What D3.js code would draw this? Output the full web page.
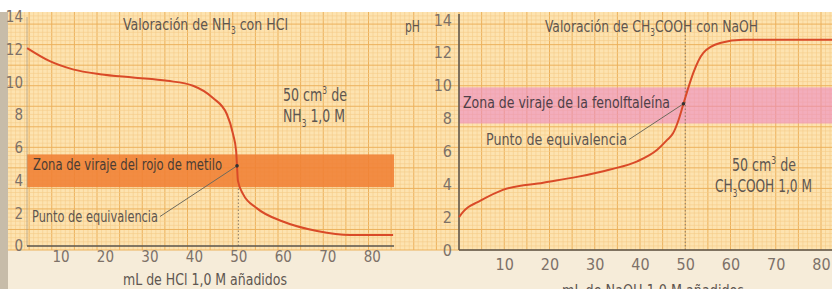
<!DOCTYPE html>
<html>
<head>
<meta charset="utf-8">
<script src="https://cdn.jsdelivr.net/npm/d3@7"></script>
<style>
  body { margin: 0; background: #fff; }
  svg { display: block; }
  text { font-family: "DejaVu Sans Condensed", "Liberation Sans Narrow", sans-serif; }
</style>
</head>
<body>
<svg id="chart"></svg>
<script>
// tick labels
const xTicks = [10, 20, 30, 40, 50, 60, 70, 80];
const yTicks = [0, 2, 4, 6, 8, 10, 12, 14];

// NH3 con HCl (mL añadidos, pH)
const nh3Ml = [2.5, 7.6, 12.8, 18.9, 26.3, 34, 39.8, 44.3, 47.4, 48.8, 49.5, 49.7, 49.9, 51, 54.2, 60, 67.7, 75.1, 84.8];
const nh3Ph = [12.1, 11.3, 10.8, 10.5, 10.3, 10.1, 9.8, 9.05, 8.07, 6.85, 5.8, 4.9, 4.0, 3.2, 2.3, 1.5, 0.92, 0.67, 0.67];
const rojoMetilo = [3.6, 5.6];

// CH3COOH con NaOH
const acMl = [0, 1, 2, 4, 9.7, 18.6, 26.1, 33.4, 39.4, 43.8, 46, 47.3, 48.5, 49.6, 50.7, 51.8, 54, 57.7, 62.8, 83];
const acPh = [2.0, 2.35, 2.6, 2.9, 3.66, 4.1, 4.45, 4.9, 5.4, 6.1, 6.7, 7.1, 7.9, 8.9, 9.9, 10.8, 12.0, 12.6, 12.8, 12.8];
const fenolftaleina = [7.7, 9.9];

const eqNh3 = [49.7, 4.9];
const eqAc = [49.6, 8.9];

const width = 832, height = 289;
const svg = d3.select("#chart").attr("width", width).attr("height", height);

const xL = d3.scaleLinear().domain([0, 85]).range([16, 394]);
const yL = d3.scaleLinear().domain([0, 14]).range([246, 17]);
const xR = d3.scaleLinear().domain([0, 80]).range([459, 821]);
const yR = d3.scaleLinear().domain([0, 14]).range([250, 20]);

const curveCol = "#d94a28", textCol = "#5e5650", axisCol = "#5a554e";

// paper background
svg.append("rect").attr("x", 0).attr("y", 0).attr("width", width).attr("height", height).attr("fill", "#fff");
svg.append("rect").attr("x", 0).attr("y", 12).attr("width", 8).attr("height", height - 12).attr("fill", "#c7bca9");
svg.append("rect").attr("x", 8).attr("y", 250).attr("width", width - 8).attr("height", height - 250).attr("fill", "#f6ecd9");
svg.append("rect").attr("x", 8).attr("y", 12).attr("width", width - 8).attr("height", 238).attr("fill", "#fde3b0");

// graph-paper grid, built from the right chart scales
const grid = svg.append("g");
const gx = d3.range(-100, 84).filter(v => xR(v) >= 8 && xR(v) <= width);
const gy = d3.range(0, 14.6, 0.25).filter(v => yR(v) >= 12);
grid.selectAll("line.v").data(gx).join("line")
  .attr("x1", d => xR(d)).attr("x2", d => xR(d)).attr("y1", 12).attr("y2", 250)
  .attr("stroke", d => d % 5 === 0 ? "#ecb15c" : "#f5cb88")
  .attr("stroke-width", d => d % 5 === 0 ? 1 : 0.6);
grid.selectAll("line.h").data(gy).join("line")
  .attr("x1", 8).attr("x2", width).attr("y1", d => yR(d)).attr("y2", d => yR(d))
  .attr("stroke", d => Math.abs(d % 1.25) < 1e-6 ? "#ecb15c" : "#f5cb88")
  .attr("stroke-width", d => Math.abs(d % 1.25) < 1e-6 ? 1 : 0.6);

// ---------- left chart ----------
const leftStart = xL.invert(27);
svg.append("rect")
  .attr("x", xL(leftStart)).attr("width", xL(85) - xL(leftStart))
  .attr("y", yL(rojoMetilo[1])).attr("height", yL(rojoMetilo[0]) - yL(rojoMetilo[1]))
  .attr("fill", "#f07f33").attr("opacity", 0.88);

svg.append("line").attr("x1", xL(50)).attr("x2", xL(50)).attr("y1", yL(0)).attr("y2", yL(rojoMetilo[0]))
  .attr("stroke", "#8a7a66").attr("stroke-dasharray", "1.5,2").attr("stroke-width", 1);

svg.append("line").attr("x1", xL(leftStart)).attr("x2", xL(leftStart)).attr("y1", yL(14)).attr("y2", yL(0))
  .attr("stroke", "#b0a080").attr("stroke-width", 0.8);
svg.append("line").attr("x1", xL(leftStart)).attr("x2", xL(85)).attr("y1", yL(0)).attr("y2", yL(0))
  .attr("stroke", axisCol).attr("stroke-width", 1.5);

const axL = svg.append("g").attr("transform", `translate(0,${yL(0)})`)
  .call(d3.axisBottom(xL).tickValues(xTicks).tickSize(0).tickPadding(5));
const ayL = svg.append("g").attr("transform", `translate(${xL(leftStart)},0)`)
  .call(d3.axisLeft(yL).tickValues(yTicks).tickSize(0).tickPadding(4));
[axL, ayL].forEach(a => {
  a.select(".domain").remove();
  a.selectAll("text").attr("fill", "#7d7168").attr("font-size", 15)
    .style("font-family", '"DejaVu Sans Condensed", sans-serif');
});

const lineL = d3.line().x(d => xL(d[0])).y(d => yL(d[1])).curve(d3.curveMonotoneX);
svg.append("path").datum(d3.zip(nh3Ml, nh3Ph)).attr("d", lineL)
  .attr("fill", "none").attr("stroke", curveCol).attr("stroke-width", 2);

// ---------- right chart ----------
svg.append("rect")
  .attr("x", xR(0)).attr("width", width - xR(0))
  .attr("y", yR(fenolftaleina[1])).attr("height", yR(fenolftaleina[0]) - yR(fenolftaleina[1]))
  .attr("fill", "#ec86c4").attr("opacity", 0.58);

svg.append("line").attr("x1", xR(50)).attr("x2", xR(50)).attr("y1", yR(0)).attr("y2", yR(14))
  .attr("stroke", "#8a7a66").attr("stroke-dasharray", "1.5,2").attr("stroke-width", 1);

svg.append("line").attr("x1", xR(0)).attr("x2", xR(0)).attr("y1", yR(14) - 6).attr("y2", yR(0))
  .attr("stroke", axisCol).attr("stroke-width", 1.5);
svg.append("line").attr("x1", xR(0)).attr("x2", width).attr("y1", yR(0)).attr("y2", yR(0))
  .attr("stroke", axisCol).attr("stroke-width", 1.5);

const axR = svg.append("g").attr("transform", `translate(0,${yR(0)})`)
  .call(d3.axisBottom(xR).tickValues(xTicks).tickSize(0).tickPadding(9));
const ayR = svg.append("g").attr("transform", `translate(${xR(0)},0)`)
  .call(d3.axisLeft(yR).tickValues(yTicks).tickSize(0).tickPadding(7));
[axR, ayR].forEach(a => {
  a.select(".domain").remove();
  a.selectAll("text").attr("fill", "#7d7168").attr("font-size", 16)
    .style("font-family", '"DejaVu Sans Condensed", sans-serif');
});

const lineR = d3.line().x(d => xR(d[0])).y(d => yR(d[1])).curve(d3.curveMonotoneX);
svg.append("path").datum(d3.zip(acMl, acPh)).attr("d", lineR)
  .attr("fill", "none").attr("stroke", curveCol).attr("stroke-width", 2);

// ---------- texts ----------
// parts: [text, kind] ; kind 1 = subíndice, 2 = superíndice
function label(x, y, parts, size, len, col) {
  const t = svg.append("text").attr("x", x).attr("y", y).attr("font-size", size).attr("fill", col || textCol);
  let shift = 0;
  parts.forEach(p => {
    const s = t.append("tspan").text(p[0]);
    let target = 0;
    if (p[1] === 1) target = size * 0.28;
    if (p[1] === 2) target = -size * 0.4;
    if (p[1]) s.attr("font-size", size * 0.6);
    if (target - shift !== 0) s.attr("dy", target - shift);
    shift = target;
  });
  if (len) t.attr("textLength", len).attr("lengthAdjust", "spacingAndGlyphs");
  return t;
}

label(123, 30, [["Valoración de NH"], ["3", 1], [" con HCl"]], 16, 165);
label(545, 32, [["Valoración de CH"], ["3", 1], ["COOH con NaOH"]], 16, 213);
label(405, 32, [["pH"]], 15, 15);

label(283, 101, [["50 cm"], ["3", 2], [" de"]], 17, 64);
label(283, 122, [["NH"], ["3", 1], [" 1,0 M"]], 17, 62);
label(732, 171, [["50 cm"], ["3", 2], [" de"]], 17, 64);
label(715, 192, [["CH"], ["3", 1], ["COOH 1,0 M"]], 17, 97);

label(33, 170, [["Zona de viraje del rojo de metilo"]], 16, 189, "#4a3c34");
label(463, 108, [["Zona de viraje de la fenolftaleína"]], 16.5, 207, "#4e4048");

const pL = label(32, 222, [["Punto de equivalencia"]], 16, 126);
const pR = label(486, 145, [["Punto de equivalencia"]], 16.5, 141);

// leader lines from label ends to equivalence points
const endL = pL.node().getBBox();
svg.append("line").attr("x1", endL.x + endL.width + 2).attr("y1", endL.y + endL.height * 0.5)
  .attr("x2", xL(eqNh3[0])).attr("y2", yL(eqNh3[1])).attr("stroke", "#6e6a5c").attr("stroke-width", 1);
const endR = pR.node().getBBox();
svg.append("line").attr("x1", endR.x + endR.width + 2).attr("y1", endR.y + endR.height * 0.5)
  .attr("x2", xR(eqAc[0])).attr("y2", yR(eqAc[1])).attr("stroke", "#6e6a5c").attr("stroke-width", 1);
svg.append("circle").attr("cx", xL(eqNh3[0])).attr("cy", yL(eqNh3[1])).attr("r", 1.8).attr("fill", "#333");
svg.append("circle").attr("cx", xR(eqAc[0])).attr("cy", yR(eqAc[1])).attr("r", 1.8).attr("fill", "#333");

label(123, 285, [["mL de HCl 1,0 M añadidos"]], 16.5, 164);
label(562, 296, [["mL de NaOH 1,0 M añadidos"]], 16.5, 182);
</script>
</body>
</html>
